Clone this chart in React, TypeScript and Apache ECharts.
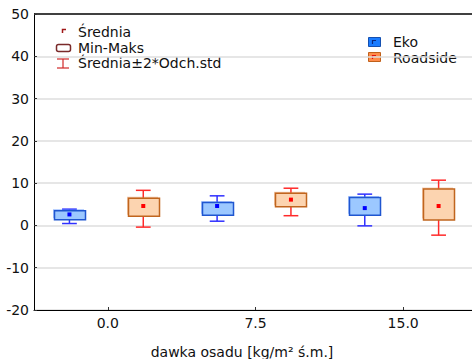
import React, { useEffect, useRef } from "react";
import * as echarts from "echarts";

const categories = ["0.0", "7.5", "15.0"];
const yTicks = [-20, -10, 0, 10, 20, 30, 40, 50];

// Eko: min, max, mean, mean-2sd, mean+2sd
const ekoMin = [1.35, 2.4, 2.4];
const ekoMax = [3.5, 5.4, 6.6];
const ekoMean = [2.6, 4.6, 4.1];
const ekoLow = [0.45, 1.0, -0.1];
const ekoHigh = [3.85, 7.0, 7.4];

// Roadside
const roadMin = [2.2, 4.4, 1.3];
const roadMax = [6.4, 7.6, 8.6];
const roadMean = [4.6, 6.1, 4.6];
const roadLow = [-0.4, 2.3, -2.3];
const roadHigh = [8.3, 8.8, 10.7];

const FONT = "DejaVu Sans, Verdana, sans-serif";

function buildData(mn: number[], mx: number[], mean: number[], lo: number[], hi: number[]) {
  return categories.map((_, i) => [i, mn[i], mx[i], mean[i], lo[i], hi[i]]);
}

function makeRender(offsetFrac: number, c: { fill: string; border: string; shadow: string; whisker: string; mean: string }) {
  return (_params: any, api: any) => {
    const idx = api.value(0);
    const band = api.size([1, 0])[0];
    const cx = api.coord([idx, 0])[0] + offsetFrac * band;
    const w = band * 0.21;
    const cap = band * 0.05;
    const yMin = api.coord([idx, api.value(1)])[1];
    const yMax = api.coord([idx, api.value(2)])[1];
    const yMean = api.coord([idx, api.value(3)])[1];
    const yLo = api.coord([idx, api.value(4)])[1];
    const yHi = api.coord([idx, api.value(5)])[1];
    const x0 = Math.round(cx - w / 2) + 0.5;
    return {
      type: "group",
      children: [
        { type: "line", shape: { x1: cx, y1: yLo, x2: cx, y2: yHi }, style: { stroke: c.whisker, lineWidth: 1.5 } },
        { type: "line", shape: { x1: cx - cap, y1: yLo, x2: cx + cap, y2: yLo }, style: { stroke: c.whisker, lineWidth: 1.5 } },
        { type: "line", shape: { x1: cx - cap, y1: yHi, x2: cx + cap, y2: yHi }, style: { stroke: c.whisker, lineWidth: 1.5 } },
        { type: "rect", shape: { x: x0 - 1.5, y: yMax - 1.5, width: w, height: yMin - yMax }, style: { fill: c.shadow } },
        { type: "rect", shape: { x: x0, y: yMax, width: w, height: yMin - yMax }, style: { fill: c.fill, stroke: c.border, lineWidth: 1.5 } },
        { type: "rect", shape: { x: cx - 2, y: yMean - 2, width: 4, height: 4 }, style: { fill: c.mean } },
      ],
    };
  };
}

export default function App() {
  const ref = useRef<HTMLDivElement>(null);
  useEffect(() => {
    if (!ref.current) return;
    const chart = echarts.init(ref.current, null, { renderer: "svg" });
    const txt = { fill: "#111", font: `14px ${FONT}` };
    const gridColors = yTicks.map((v) => (v === 50 ? "#000" : "#dedede"));
    chart.setOption({
      animation: false,
      grid: { left: 34, width: 443, top: 14, bottom: 49, show: false, outerBoundsMode: "none" },
      xAxis: {
        type: "category",
        data: categories,
        axisLine: { show: true, onZero: false, lineStyle: { color: "#000" } },
        axisTick: { show: true, inside: true, alignWithLabel: true, length: 3, lineStyle: { color: "#333" } },
        axisLabel: { color: "#111", fontSize: 14, fontFamily: FONT, margin: 6 },
        splitLine: { show: false },
      },
      yAxis: {
        type: "value",
        min: -20,
        max: 50,
        interval: 10,
        axisLine: { show: true, onZero: false, lineStyle: { color: "#000" } },
        axisTick: { show: true, inside: true, length: 3, lineStyle: { color: "#333" } },
        axisLabel: { color: "#111", fontSize: 14, fontFamily: FONT, margin: 5 },
        splitLine: { show: true, lineStyle: { color: gridColors, width: 1.5 } },
      },
      series: [
        {
          name: "Eko",
          type: "custom",
          data: buildData(ekoMin, ekoMax, ekoMean, ekoLow, ekoHigh),
          encode: { x: 0, y: [1, 2, 3, 4, 5] },
          renderItem: makeRender(-0.26, { fill: "#9cc8ff", border: "#1f56d0", shadow: "rgba(80,140,255,0.45)", whisker: "#3030ff", mean: "#0000ff" }),
        },
        {
          name: "Roadside",
          type: "custom",
          data: buildData(roadMin, roadMax, roadMean, roadLow, roadHigh),
          encode: { x: 0, y: [1, 2, 3, 4, 5] },
          renderItem: makeRender(0.24, { fill: "#fcd4b0", border: "#c0651e", shadow: "rgba(230,140,70,0.45)", whisker: "#ff2a2a", mean: "#ff0000" }),
        },
      ],
      graphic: [
        // left legend
        { type: "polyline", shape: { points: [[62.5, 33], [62.5, 29.5], [66, 29.5]] }, style: { stroke: "#a01818", lineWidth: 1.5, fill: "none" } },
        { type: "text", x: 78, y: 32, style: { ...txt, text: "Średnia", verticalAlign: "middle" } },
        { type: "rect", shape: { x: 56.5, y: 44.5, width: 14, height: 7, r: 2 }, style: { stroke: "#7a2a2a", fill: "none", lineWidth: 1.5 } },
        { type: "text", x: 78, y: 47.5, style: { ...txt, text: "Min-Maks", verticalAlign: "middle" } },
        { type: "line", shape: { x1: 57, y1: 59, x2: 69, y2: 59 }, style: { stroke: "#d02828", lineWidth: 1.2 } },
        { type: "line", shape: { x1: 57, y1: 68, x2: 69, y2: 68 }, style: { stroke: "#d02828", lineWidth: 1.2 } },
        { type: "line", shape: { x1: 63, y1: 59, x2: 63, y2: 68 }, style: { stroke: "#d02828", lineWidth: 1.2 } },
        { type: "text", x: 78, y: 63, style: { ...txt, text: "Średnia±2*Odch.std", verticalAlign: "middle" } },
        // right legend
        { type: "rect", shape: { x: 368.5, y: 37.5, width: 12, height: 9 }, style: { fill: "#1a7cff", stroke: "#1550b0", lineWidth: 1 } },
        { type: "polyline", shape: { points: [[372.5, 44], [372.5, 40.5], [376, 40.5]] }, style: { stroke: "#0a2a80", lineWidth: 1.2, fill: "none" } },
        { type: "text", x: 393, y: 42, style: { ...txt, text: "Eko", verticalAlign: "middle" } },
        { type: "rect", shape: { x: 368.5, y: 52.5, width: 12, height: 9 }, style: { fill: "#ff8c4a", stroke: "#c0601a", lineWidth: 1 } },
        { type: "polyline", shape: { points: [[372.5, 59], [372.5, 55.5], [376, 55.5]] }, style: { stroke: "#e01010", lineWidth: 1.2, fill: "none" } },
        { type: "text", x: 393, y: 58, style: { ...txt, text: "Roadside", verticalAlign: "middle" } },
        // x axis title
        { type: "text", x: 242, y: 352, style: { ...txt, text: "dawka osadu [kg/m² ś.m.]", align: "center", verticalAlign: "middle" } },
      ],
    });
    // hide any stray full-height vertical stroke near the right edge (not part of the reference)
    const svg = ref.current.querySelector("svg");
    if (svg) {
      svg.querySelectorAll("path, line").forEach((el: any) => {
        try {
          const b = el.getBBox();
          if (b.width < 3 && b.height > 200 && b.x > 300) el.style.display = "none";
        } catch (e) {
          /* ignore */
        }
      });
    }
    return () => chart.dispose();
  }, []);
  return <div ref={ref} style={{ position: "absolute", left: 0, top: 0, width: 472, height: 359 }} />;
}
